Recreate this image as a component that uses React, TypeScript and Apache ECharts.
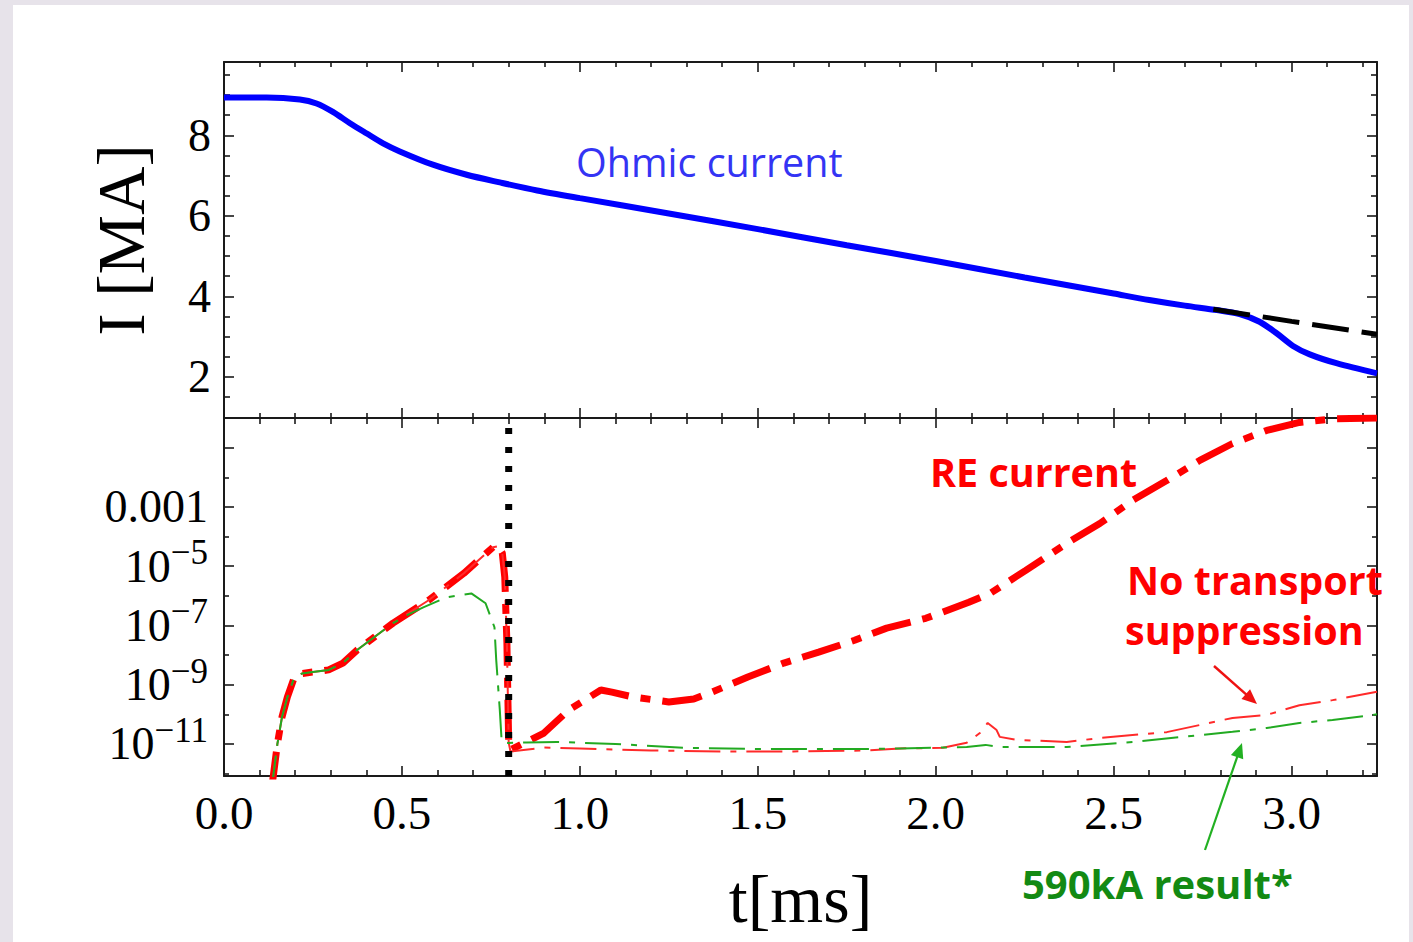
import { useEffect, useRef } from 'react';
import * as echarts from 'echarts';

// ---------- axes ----------
const X_MIN = 0;
const X_MAX = 3.24;
const xMajorTicks = [0, 0.5, 1.0, 1.5, 2.0, 2.5, 3.0];
const xMinorTicks = [0.1, 0.2, 0.3, 0.4, 0.6, 0.7, 0.8, 0.9, 1.1, 1.2, 1.3, 1.4, 1.6, 1.7, 1.8, 1.9, 2.1, 2.2, 2.3, 2.4, 2.6, 2.7, 2.8, 2.9, 3.1, 3.2];

const TOP_Y_MIN = 0.98;
const TOP_Y_MAX = 9.82;
const topYMajorTicks = [2, 4, 6, 8];
const topYMinorTicks = [1.5, 2.5, 3, 3.5, 4.5, 5, 5.5, 6.5, 7, 7.5, 8.5, 9, 9.5];

// bottom panel: log10 of current [MA]
const BOT_Y_MIN = -12.08;
const BOT_Y_MAX = 0;
const botYMajorTicks = [-11, -9, -7, -5, -3, -1];
const botYLabelTicks = [-11, -9, -7, -5, -3];
const botYMinorTicks = [-12, -10, -8, -6, -4, -2];

// ---------- data ----------
// top: ohmic current [MA] vs t [ms]
const ohmicT = [0, 0.12, 0.213, 0.26, 0.306, 0.354, 0.4, 0.447, 0.494, 0.587, 0.682, 0.775, 0.88, 1.0, 1.25, 1.5, 1.75, 2.0, 2.25, 2.5, 2.6, 2.7, 2.79, 2.854, 2.91, 2.957, 3.004, 3.051, 3.126, 3.24];
const ohmicI = [8.94, 8.94, 8.89, 8.79, 8.58, 8.3, 8.05, 7.8, 7.6, 7.27, 7.02, 6.83, 6.63, 6.44, 6.06, 5.67, 5.27, 4.88, 4.47, 4.07, 3.91, 3.77, 3.66, 3.56, 3.37, 3.09, 2.77, 2.56, 2.34, 2.09];

// top: black dashed reference
const refT = [2.78, 3.0, 3.24];
const refI = [3.68, 3.38, 3.06];

// bottom: RE current (thick), log10 I
const reT = [0.133, 0.15, 0.163, 0.178, 0.198, 0.22, 0.244, 0.294, 0.334, 0.374, 0.475, 0.575, 0.674, 0.756, 0.77, 0.782, 0.789, 0.795, 0.8, 0.805, 0.899, 0.969, 1.059, 1.09, 1.152, 1.25, 1.32, 1.371, 1.472, 1.573, 1.671, 1.772, 1.862, 1.972, 2.093, 2.154, 2.253, 2.368, 2.461, 2.553, 2.649, 2.742, 2.834, 2.93, 3.022, 3.115, 3.24];
const reLog = [-12.6, -11.0, -10.09, -9.42, -8.74, -8.62, -8.58, -8.5, -8.27, -7.83, -6.92, -6.15, -5.24, -4.36, -4.33, -4.55, -5.37, -7.6, -10.96, -11.2, -10.63, -9.85, -9.18, -9.25, -9.42, -9.58, -9.48, -9.25, -8.74, -8.27, -7.9, -7.5, -7.09, -6.76, -6.22, -5.91, -5.14, -4.23, -3.56, -2.78, -2.11, -1.43, -0.86, -0.42, -0.15, -0.03, 0.0];

// bottom: no transport suppression (thin red), log10 I
const noSupT = [0.133, 0.15, 0.163, 0.178, 0.198, 0.22, 0.244, 0.294, 0.334, 0.374, 0.475, 0.575, 0.674, 0.756, 0.77, 0.782, 0.789, 0.795, 0.8, 0.805, 0.9, 1.0, 1.2, 1.4, 1.6, 1.8, 1.9, 2.02, 2.087, 2.124, 2.146, 2.171, 2.18, 2.228, 2.368, 2.461, 2.553, 2.649, 2.742, 2.834, 2.93, 3.022, 3.115, 3.24];
const noSupLog = [-12.6, -11.0, -10.09, -9.42, -8.74, -8.62, -8.58, -8.5, -8.27, -7.83, -6.92, -6.15, -5.24, -4.36, -4.33, -4.55, -5.37, -7.6, -10.96, -11.25, -11.12, -11.15, -11.22, -11.25, -11.25, -11.22, -11.15, -11.13, -10.96, -10.63, -10.29, -10.53, -10.76, -10.86, -10.93, -10.8, -10.7, -10.6, -10.36, -10.12, -10.02, -9.69, -9.52, -9.24];

// bottom: 590kA result (thin green), log10 I
const kA590T = [0.133, 0.15, 0.163, 0.178, 0.198, 0.22, 0.244, 0.294, 0.334, 0.374, 0.475, 0.52, 0.56, 0.625, 0.695, 0.735, 0.76, 0.765, 0.775, 0.78, 0.785, 0.85, 0.935, 1.1, 1.3, 1.5, 1.8, 1.9, 2.087, 2.14, 2.18, 2.368, 2.553, 2.742, 2.834, 2.93, 3.022, 3.115, 3.24];
const kA590Log = [-12.6, -11.0, -10.09, -9.42, -8.74, -8.62, -8.58, -8.5, -8.27, -7.83, -6.92, -6.62, -6.39, -6.05, -5.92, -6.25, -7.06, -8.17, -9.85, -10.86, -10.97, -10.95, -10.93, -11.0, -11.13, -11.17, -11.17, -11.15, -11.1, -11.03, -11.1, -11.1, -10.93, -10.7, -10.59, -10.46, -10.29, -10.19, -10.0];

// thermal quench time marker [ms]
const quenchT = 0.8;

// ---------- styling ----------
const SERIF = '"Liberation Serif", "Times New Roman", serif';
const SANS = '"Open Sans", "Noto Sans", sans-serif';
const FRAME = '#1a1a1a';
const pairs = (xs: number[], ys: number[]) => xs.map((x, i) => [x, ys[i]]);

function xAxisDef(gridIndex: number, position: string, ticks: number[], len: number, line: boolean, extra: any = {}) {
  return {
    type: 'value', gridIndex, position, min: X_MIN, max: X_MAX,
    axisLine: { show: line, onZero: false, lineStyle: { color: FRAME, width: 2 } },
    axisTick: { show: true, inside: true, length: len, customValues: ticks, lineStyle: { color: FRAME, width: 1.6 } },
    axisLabel: { show: false },
    splitLine: { show: false },
    ...extra,
  };
}
function yAxisDef(gridIndex: number, position: string, min: number, max: number, ticks: number[], len: number, line: boolean, extra: any = {}) {
  return {
    type: 'value', gridIndex, position, min, max,
    axisLine: { show: line, onZero: false, lineStyle: { color: FRAME, width: 2 } },
    axisTick: { show: true, inside: true, length: len, customValues: ticks, lineStyle: { color: FRAME, width: 1.6 } },
    axisLabel: { show: false },
    splitLine: { show: false },
    ...extra,
  };
}

function arrow(x1: number, y1: number, x2: number, y2: number, color: string, width: number) {
  const dx = x2 - x1, dy = y2 - y1;
  const L = Math.hypot(dx, dy);
  const ux = dx / L, uy = dy / L;
  const px = -uy, py = ux;
  const hl = 15, hw = 6.5;
  const bx = x2 - ux * hl, by = y2 - uy * hl;
  return [
    { type: 'line', shape: { x1, y1, x2: bx + ux * 2, y2: by + uy * 2 }, style: { stroke: color, lineWidth: width }, z: 50 },
    { type: 'polygon', shape: { points: [[x2, y2], [bx + px * hw, by + py * hw], [bx - px * hw, by - py * hw]] }, style: { fill: color }, z: 50 },
  ];
}

export default function App() {
  const ref = useRef<HTMLDivElement>(null);
  useEffect(() => {
    if (!ref.current) return;
    const chart = echarts.init(ref.current, null, { renderer: 'svg' });
    const option: any = {
      animation: false,
      backgroundColor: '#e7e3ea',
      grid: [
        { left: 224, top: 62, width: 1153, height: 356, containLabel: false, outerBoundsMode: 'none' },
        { left: 224, top: 418, width: 1153, height: 358, containLabel: false, outerBoundsMode: 'none' },
      ],
      xAxis: [
        xAxisDef(0, 'bottom', xMajorTicks, 10, true),
        xAxisDef(0, 'bottom', xMinorTicks, 5, false),
        xAxisDef(0, 'top', xMajorTicks, 10, true),
        xAxisDef(0, 'top', xMinorTicks, 5, false),
        xAxisDef(1, 'bottom', xMajorTicks, 10, true, {
          axisLabel: {
            show: true, customValues: xMajorTicks, margin: 13,
            fontFamily: SERIF, fontSize: 47, color: '#000',
            formatter: (v: number) => v.toFixed(1),
          },
          name: 't[ms]', nameLocation: 'middle', nameGap: 89,
          nameTextStyle: { fontFamily: SERIF, fontSize: 68, color: '#000' },
        }),
        xAxisDef(1, 'bottom', xMinorTicks, 6, false),
        xAxisDef(1, 'top', xMajorTicks, 10, true),
        xAxisDef(1, 'top', xMinorTicks, 6, false),
      ],
      yAxis: [
        yAxisDef(0, 'left', TOP_Y_MIN, TOP_Y_MAX, topYMajorTicks, 10, true, {
          axisLabel: {
            show: true, customValues: topYMajorTicks, margin: 13,
            fontFamily: SERIF, fontSize: 46, color: '#000',
            formatter: (v: number) => String(v),
          },
          name: 'I [MA]', nameLocation: 'middle', nameRotate: 90, nameGap: 70,
          nameTextStyle: { fontFamily: SERIF, fontSize: 67, color: '#000' },
        }),
        yAxisDef(0, 'left', TOP_Y_MIN, TOP_Y_MAX, topYMinorTicks, 6, false),
        yAxisDef(0, 'right', TOP_Y_MIN, TOP_Y_MAX, topYMajorTicks, 10, true),
        yAxisDef(0, 'right', TOP_Y_MIN, TOP_Y_MAX, topYMinorTicks, 6, false),
        yAxisDef(1, 'left', BOT_Y_MIN, BOT_Y_MAX, botYMajorTicks, 10, true, {
          axisLabel: {
            show: true, customValues: botYLabelTicks, margin: 16,
            color: '#000',
            formatter: (v: number) => (v === -3 ? '{b|0.001}' : `{b|10}{s|\u2212${-v}}`),
            rich: {
              b: { fontFamily: SERIF, fontSize: 46, lineHeight: 62, color: '#000' },
              s: { fontFamily: SERIF, fontSize: 35, verticalAlign: 'top', color: '#000' },
            },
          },
        }),
        yAxisDef(1, 'left', BOT_Y_MIN, BOT_Y_MAX, botYMinorTicks, 5, false),
        yAxisDef(1, 'right', BOT_Y_MIN, BOT_Y_MAX, botYMajorTicks, 10, true),
        yAxisDef(1, 'right', BOT_Y_MIN, BOT_Y_MAX, botYMinorTicks, 5, false),
      ],
      series: [
        {
          name: 'Ohmic current', type: 'line', xAxisIndex: 0, yAxisIndex: 0,
          data: pairs(ohmicT, ohmicI), symbol: 'none', smooth: 0.3,
          lineStyle: { color: '#0000ff', width: 6 }, z: 3,
        },
        {
          name: 'Reference', type: 'line', xAxisIndex: 0, yAxisIndex: 0,
          data: pairs(refT, refI), symbol: 'none',
          lineStyle: { color: '#000', width: 5, type: [37, 13] }, z: 4,
        },
        {
          name: 'RE current', type: 'line', xAxisIndex: 4, yAxisIndex: 4,
          data: pairs(reT, reLog), symbol: 'none',
          lineStyle: { color: '#ff0000', width: 7, type: [40, 12, 10, 12] }, z: 3,
        },
        {
          name: 'No transport suppression', type: 'line', xAxisIndex: 4, yAxisIndex: 4,
          data: pairs(noSupT, noSupLog), symbol: 'none',
          lineStyle: { color: '#ff2a2a', width: 2, type: [36, 10, 6, 10] }, z: 4,
        },
        {
          name: '590kA result', type: 'line', xAxisIndex: 4, yAxisIndex: 4,
          data: pairs(kA590T, kA590Log), symbol: 'none',
          lineStyle: { color: '#22aa22', width: 2, type: [36, 10, 6, 10] }, z: 5,
        },
        {
          name: 'Thermal quench', type: 'line', xAxisIndex: 4, yAxisIndex: 4,
          data: [[quenchT, BOT_Y_MIN], [quenchT, BOT_Y_MAX]], symbol: 'none',
          lineStyle: { color: '#000', width: 7, type: [6, 13] }, z: 6,
        },
      ],
      graphic: [
        { type: 'rect', shape: { x: 13, y: 5, width: 1396, height: 940 }, style: { fill: '#ffffff' }, z: -100, silent: true },
        { type: 'text', x: 576, y: 162, style: { text: 'Ohmic current', fontFamily: SANS, fontSize: 39.5, fill: '#3434f4', verticalAlign: 'middle' }, z: 40 },
        { type: 'text', x: 930, y: 472, style: { text: 'RE current', fontFamily: SANS, fontSize: 39.5, fontWeight: 'bold', fill: '#ff0000', verticalAlign: 'middle' }, z: 40 },
        { type: 'text', x: 1127, y: 580, style: { text: 'No transport', fontFamily: SANS, fontSize: 39.5, fontWeight: 'bold', fill: '#ff0000', verticalAlign: 'middle' }, z: 40 },
        { type: 'text', x: 1125, y: 630, style: { text: 'suppression', fontFamily: SANS, fontSize: 39.5, fontWeight: 'bold', fill: '#ff0000', verticalAlign: 'middle' }, z: 40 },
        { type: 'text', x: 1022, y: 883, style: { text: '590kA result*', fontFamily: SANS, fontSize: 40, fontWeight: 'bold', fill: '#138a13', verticalAlign: 'middle' }, z: 40 },
        ...arrow(1214, 666, 1257, 704, '#ee1111', 2.4),
        ...arrow(1205, 850, 1242, 743, '#22b022', 2.2),
      ],
    };
    chart.setOption(option);
    return () => chart.dispose();
  }, []);
  return <div ref={ref} style={{ position: 'fixed', left: 0, top: 0, width: 1413, height: 942 }} />;
}
